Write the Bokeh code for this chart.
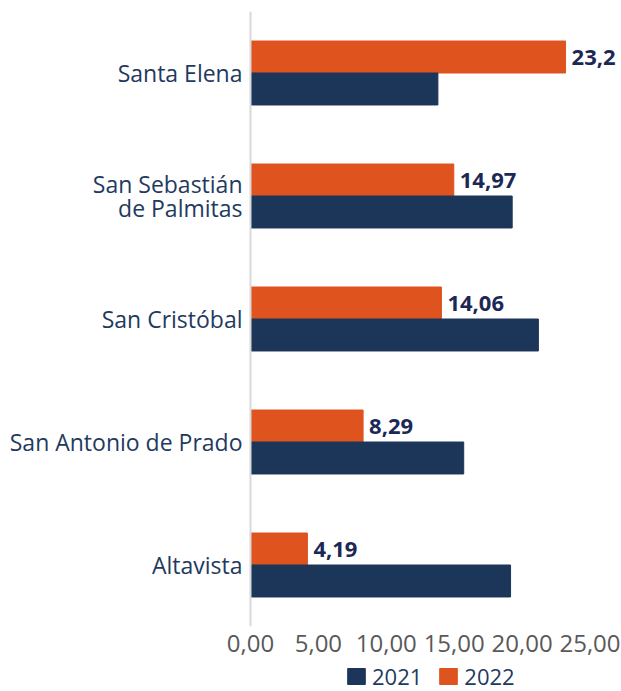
from bokeh.plotting import figure
from bokeh.layouts import column
from bokeh.models import (FactorRange, Range1d, FixedTicker, CustomJSTickFormatter,
                          Legend, LegendItem, ColumnDataSource, Span)
from bokeh.transform import dodge
from bokeh.core.properties import value
from bokeh.embed import file_html
from bokeh.resources import INLINE

categories = ["Santa Elena", "San Sebastián de Palmitas", "San Cristóbal",
              "San Antonio de Prado", "Altavista"]
category_labels = ["Santa Elena", "San Sebastián\nde Palmitas", "San Cristóbal",
                   "San Antonio de Prado", "Altavista"]
values_2021 = [13.8, 19.27, 21.2, 15.7, 19.15]
values_2022 = [23.2, 14.97, 14.06, 8.29, 4.19]
x_ticks = [0, 5, 10, 15, 20, 25]
series_names = ["2021", "2022"]

NAVY = "#1C365A"
ORANGE = "#DE531E"
LABEL_NAVY = "#1F3A60"
FONT = "Open Sans"

W = 621
# horizontal layout: value 0 at 250px, 25 at 589.5px inside a full-width frame
PX_PER_UNIT = (589.5 - 250) / 25.0
X_START = -250 / PX_PER_UNIT
X_END = 25 + (W - 589.5) / PX_PER_UNIT

src = ColumnDataSource(dict(
    cat=categories,
    catlab=category_labels,
    zero=[0] * len(categories),
    v21=values_2021,
    v22=values_2022,
    lab=[str(v).replace(".", ",") for v in values_2022],
))

p = figure(width=W, height=660, output_backend="svg", toolbar_location=None,
           y_range=FactorRange(factors=categories[::-1]),
           x_range=Range1d(X_START, X_END),
           min_border_left=0, min_border_right=0, min_border_top=11,
           min_border_bottom=34)
p.outline_line_color = None
p.xgrid.grid_line_color = None
p.ygrid.grid_line_color = None
p.yaxis.visible = False

p.hbar(y=dodge("cat", 0.13, range=p.y_range), left=0, right="v22", height=0.26,
       color=ORANGE, source=src)
p.hbar(y=dodge("cat", -0.13, range=p.y_range), left=0, right="v21", height=0.26,
       color=NAVY, source=src)

p.add_layout(Span(location=0, dimension="height", line_color="#D9D9D9", line_width=2))

p.text(x="v22", y=dodge("cat", 0.13, range=p.y_range), text="lab", x_offset=6,
       text_baseline="middle", text_align="left", text_font=value(FONT),
       text_font_style="bold", text_font_size="22px", text_color="#1B2856", source=src)

p.text(x="zero", y="cat", text="catlab", x_offset=-8,
       text_baseline="middle", text_align="right", text_font=value(FONT),
       text_font_size="23px", text_color=LABEL_NAVY, text_line_height=0.74,
       source=src)

# x axis
p.xaxis.axis_line_color = None
p.xaxis.major_tick_line_color = None
p.xaxis.minor_tick_line_color = None
p.xaxis.ticker = FixedTicker(ticks=x_ticks)
p.xaxis.formatter = CustomJSTickFormatter(code="return tick.toFixed(2).replace('.', ',');")
p.xaxis.major_label_text_font = FONT
p.xaxis.major_label_text_font_size = "24px"
p.xaxis.major_label_text_color = "#595959"
p.xaxis.major_label_standoff = 2

# legend strip below the chart (legend glyphs reuse the series, kept out of view)
lg = figure(width=W, height=31, output_backend="svg", toolbar_location=None,
            x_range=Range1d(-2, -1), y_range=FactorRange(factors=categories),
            min_border_left=0, min_border_right=0, min_border_top=0, min_border_bottom=0)
lg.outline_line_color = None
lg.axis.visible = False
lg.grid.visible = False
k21 = lg.hbar(y="cat", left=0, right="v21", height=0.5, color=NAVY, source=src)
k22 = lg.hbar(y="cat", left=0, right="v22", height=0.5, color=ORANGE, source=src)
legend = Legend(items=[LegendItem(label=series_names[0], renderers=[k21]),
                       LegendItem(label=series_names[1], renderers=[k22])],
                orientation="horizontal", location=(345, 0),
                glyph_width=22, glyph_height=20, label_standoff=5, spacing=15,
                label_text_font=FONT, label_text_font_size="22px",
                label_text_color=LABEL_NAVY, border_line_color=None,
                background_fill_alpha=0, padding=0, margin=0)
lg.add_layout(legend, "center")

layout = column(p, lg, spacing=0)
open("out.html", "w").write(file_html(layout, INLINE))
